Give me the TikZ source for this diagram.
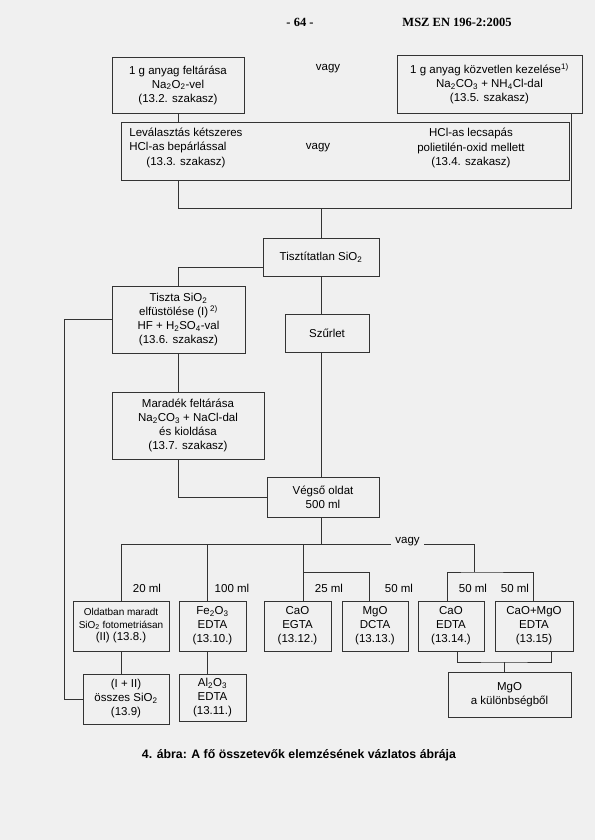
\documentclass[tikz,border=0pt]{standalone}
\usepackage{fontspec}
\setmainfont{Liberation Sans}
\newfontfamily\hdrfont{Liberation Serif}
\newcommand\sbs[1]{\textsubscript{#1}}
\newcommand\sps[1]{\textsuperscript{#1}}
\begin{document}
\begin{tikzpicture}[x=1pt,y=-1pt,
  line width=0.75pt,
  conn/.style={draw=black!80},
  box/.style={draw=black!80,rectangle,inner sep=0pt,align=center,font=\fontsize{11.5}{14}\selectfont},
  txt/.style={inner sep=1pt,align=center,font=\fontsize{11.5}{14.5}\selectfont},
  lbl/.style={inner sep=1pt,font=\fontsize{11.5}{12}\selectfont}]
\fill[black!6] (0,0) rectangle (595,840);
\useasboundingbox (0,0) rectangle (595,840);
% header
\node[inner sep=0,font=\hdrfont\bfseries\fontsize{12.5}{14}\selectfont] (pg) at (300,22) {- 64 -};
\node[inner sep=0,font=\hdrfont\bfseries\fontsize{12.5}{14}\selectfont] (std) at (457,22) {MSZ EN 196-2:2005};
% top boxes
\node[box,minimum width=132pt,minimum height=56pt] (A) at (178,85) {1 g anyag feltárása\\Na\sbs{2}O\sbs{2}-vel\\(13.2. szakasz)};
\node[txt] (v1) at (328,69) {vagy};
\node[box,minimum width=185pt,minimum height=58pt] (B) at (489.5,84) {1 g anyag közvetlen kezelése\sps{1)}\\Na\sbs{2}CO\sbs{3} + NH\sbs{4}Cl-dal\\(13.5. szakasz)};
% box C
\node[box,minimum width=448pt,minimum height=58pt] (C) at (345,151) {};
\node[txt,anchor=west,align=left] (c1) at (128,140.5) {Leválasztás kétszeres\\HCl-as bepárlással};
\node[txt] (c2) at (186,163) {(13.3. szakasz)};
\node[txt] (v2) at (318,148) {vagy};
\node[txt] (c3) at (471,148) {HCl-as lecsapás\\polietilén-oxid mellett\\(13.4. szakasz)};
\coordinate (j1) at (178,208);
\coordinate (j2) at (571,208);
% middle
\node[box,minimum width=116pt,minimum height=38pt] (D) at (321,257) {Tisztítatlan SiO\sbs{2}};
\node[box,minimum width=133pt,minimum height=67pt] (E) at (178.5,319.5) {Tiszta SiO\sbs{2}\\elfüstölése (I)\,\sps{2)}\\HF + H\sbs{2}SO\sbs{4}-val\\(13.6. szakasz)};
\node[box,minimum width=84pt,minimum height=38pt] (F) at (327,333) {Szűrlet};
\node[box,minimum width=152pt,minimum height=67pt] (G) at (188,425.5) {Maradék feltárása\\Na\sbs{2}CO\sbs{3} + NaCl-dal\\és kioldása\\(13.7. szakasz)};
\node[box,minimum width=112pt,minimum height=40pt] (H) at (323,497) {Végső oldat\\500 ml};
\coordinate (L) at (64,319.5);
% bottom rows
\node[box,minimum width=96pt,minimum height=50pt,font=\fontsize{10}{12.5}\selectfont] (Old) at (121,626) {Oldatban maradt\\SiO\sbs{2} fotometriásan\\{\fontsize{11.5}{12}\selectfont (II) (13.8.)}};
\node[box,minimum width=67pt,minimum height=50pt] (Fe) at (212.5,626) {Fe\sbs{2}O\sbs{3}\\EDTA\\(13.10.)};
\node[box,minimum width=67pt,minimum height=50pt] (CaA) at (297.5,626) {CaO\\EGTA\\(13.12.)};
\node[box,minimum width=66pt,minimum height=50pt] (MgA) at (375,626) {MgO\\DCTA\\(13.13.)};
\node[box,minimum width=66pt,minimum height=50pt] (CaB) at (451,626) {CaO\\EDTA\\(13.14.)};
\node[box,minimum width=78pt,minimum height=50pt] (CaMg) at (534,626) {CaO+MgO\\EDTA\\(13.15)};
\node[box,minimum width=86pt,minimum height=50pt] (Sum) at (126,699) {(I + II)\\összes SiO\sbs{2}\\(13.9)};
\node[box,minimum width=67pt,minimum height=47pt] (Al) at (212.5,697.5) {Al\sbs{2}O\sbs{3}\\EDTA\\(13.11.)};
\node[box,minimum width=123pt,minimum height=45pt] (MgD) at (509.5,694.5) {MgO\\a különbségből};
% labels
\node[lbl] (l1) at (147,588) {20 ml};
\node[lbl] (l2) at (232,588) {100 ml};
\node[lbl] (l3) at (329,588) {25 ml};
\node[lbl] (l4) at (399,588) {50 ml};
\node[lbl] (l5) at (473,588) {50 ml};
\node[lbl] (l6) at (515,588) {50 ml};
\node[txt,inner sep=4pt] (v3) at (407.5,542) {vagy};
\coordinate (bus) at (121,544);
\coordinate (g2) at (474,572);
\coordinate (m1) at (303,544);
\coordinate (h) at (504,662);
% caption
\node[inner sep=0,font=\bfseries\fontsize{12.3}{14}\selectfont] (cap) at (299,755) {4. ábra: A fő összetevők elemzésének vázlatos ábrája};
% connectors
\draw[conn] (A.south) -- (A.south |- C.north);
\draw[conn] (A.south |- C.south) -- (j1) -- (j2) -- (j2 |- B.south);
\draw[conn] (D.north |- j1) -- (D.north);
\draw[conn] ([yshift=-10pt]D.west) -| (E.north);
\draw[conn] (D.south) -- (D.south |- F.north);
\draw[conn] (E.south) -- (E.south |- G.north);
\draw[conn] (E.south |- G.south) |- (H.west);
\draw[conn] (D.south |- F.south) -- (D.south |- H.north);
\draw[conn] (E.west) -- (E.west -| L) |- (Sum.west);
\draw[conn] (D.south |- H.south) -- (D.south |- bus);
\draw[conn] (Old.north) |- (bus) -- (bus -| v3.west);
\draw[conn] ([xshift=-5pt]Fe.north) -- ([xshift=-5pt]Fe.north |- bus);
\draw[conn] (m1) -- (m1 |- CaA.north);
\draw[conn] (m1 |- g2) -| ([xshift=-6pt]MgA.north);
\draw[conn] (bus -| v3.east) -| (g2);
\draw[conn] ([xshift=-4pt]CaB.north) |- (g2) -| ([xshift=-1pt]CaMg.north);
\draw[conn] (Old.south) -- (Old.south |- Sum.north);
\draw[conn] ([xshift=-5pt]Fe.south) -- ([xshift=-5pt]Fe.south |- Al.north);
\draw[conn] ([xshift=6pt]CaB.south) |- (h) -| ([xshift=17pt]CaMg.south);
\draw[conn] (h) -- (h |- MgD.north);
\end{tikzpicture}
\end{document}
